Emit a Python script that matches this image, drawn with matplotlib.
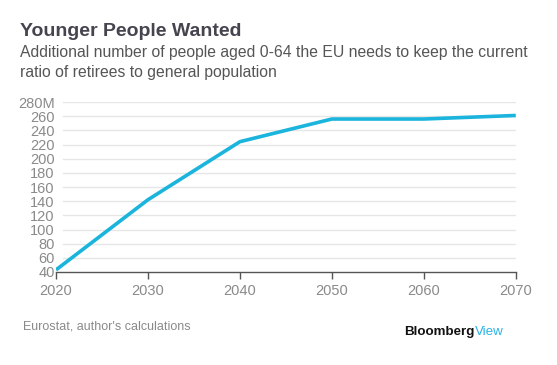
import matplotlib.pyplot as plt

years = [2020, 2030, 2040, 2050, 2060, 2070]
people_m = [43, 142, 224, 256, 256, 261]
y_ticks = list(range(40, 281, 20))
y_labels = [str(v) for v in y_ticks[:-1]] + ["280M"]

plt.rcParams['font.family'] = ['Liberation Sans', 'DejaVu Sans']

fig = plt.figure(figsize=(5.57, 3.65), dpi=100)
ax = fig.add_axes([0.1005, 0.2548, 0.8255, 0.4657])

# gridlines
for v in y_ticks[1:]:
    ax.axhline(v, xmin=0.015, xmax=1, color='#e6e6e6', lw=1, zorder=0)

ax.plot(years, people_m, color='#1ab4dc', lw=2.6, solid_capstyle='butt', zorder=3)

ax.set_xlim(2020, 2070)
ax.set_ylim(40, 280)
ax.set_xticks(years)
ax.set_yticks(y_ticks)
ax.set_yticklabels(y_labels)

for s in ['top', 'right', 'left']:
    ax.spines[s].set_visible(False)
ax.spines['bottom'].set_color('#555555')
ax.spines['bottom'].set_linewidth(1)
ax.tick_params(axis='x', colors='#555555', length=5, width=1, pad=4,
               labelcolor='#8a8a8a', labelsize=10.5)
ax.tick_params(axis='y', length=0, pad=1, labelcolor='#8a8a8a', labelsize=10.5)

fig.text(0.036, 0.915, "Younger People Wanted", fontsize=14, fontweight='bold',
         color='#45454f', va='center')
fig.text(0.036, 0.855, "Additional number of people aged 0-64 the EU needs to keep the current",
         fontsize=11.3, color='#555555', va='center')
fig.text(0.036, 0.8, "ratio of retirees to general population",
         fontsize=11.3, color='#555555', va='center')

fig.text(0.041, 0.105, "Eurostat, author's calculations", fontsize=9,
         color='#8a8a8a', va='center')
t = fig.text(0.726, 0.09, "Bloomberg", fontsize=9.6, fontweight='bold',
             color='#111111', va='center')
fig.canvas.draw()
bb = t.get_window_extent()
fig.text(bb.x1 / fig.bbox.width, 0.09, "View", fontsize=9.6,
         color='#2ab4e6', va='center')

fig.savefig('out.png', dpi=100)
